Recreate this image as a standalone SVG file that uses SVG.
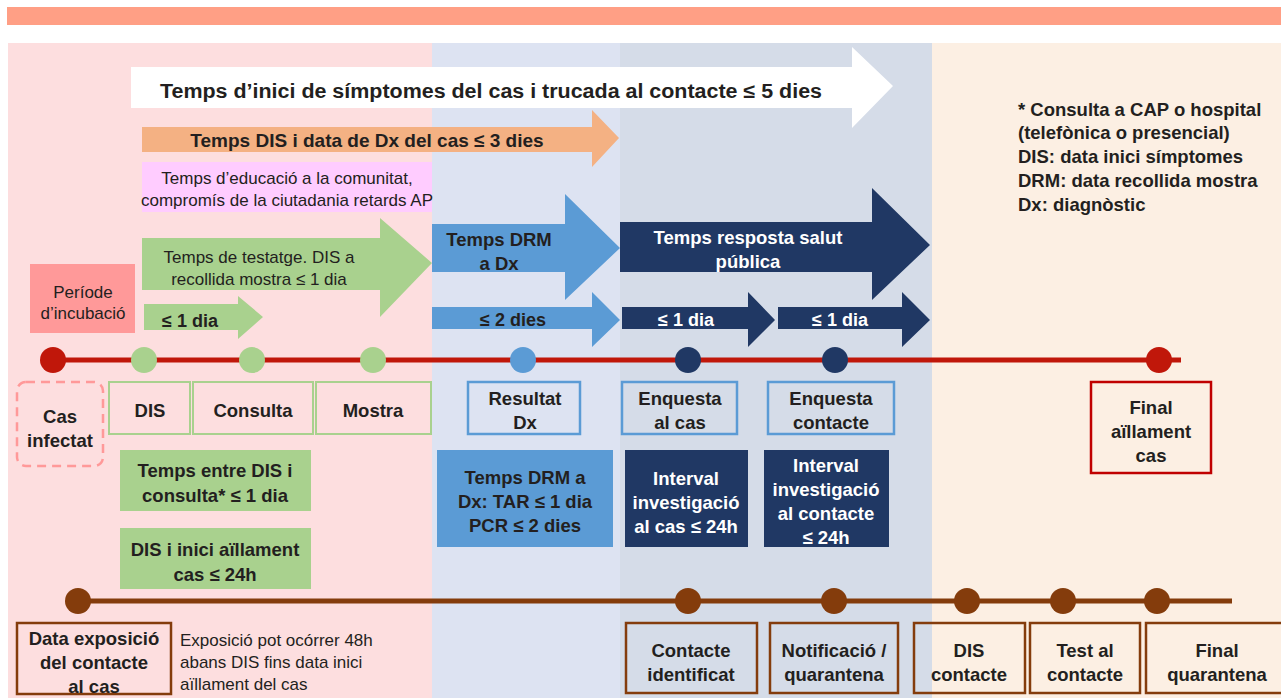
<svg xmlns="http://www.w3.org/2000/svg" width="1281" height="698" viewBox="0 0 1281 698">
  <style>
    text { font-family: "Liberation Sans", Arial, sans-serif; fill: #231F20; }
    .b { font-weight: bold; font-size: 18.5px; }
    .s { font-size: 18px; }
    .r { font-size: 17px; }
    .w { fill: #FFFFFF; }
    .c { text-anchor: middle; }
    .gbox { fill: none; stroke: #A9D18E; stroke-width: 2; }
    .bbox { fill: none; stroke: #5B9BD5; stroke-width: 2.5; }
    .rbox { fill: none; stroke: #C00000; stroke-width: 2.5; }
    .brbox { fill: none; stroke: #843C0C; stroke-width: 2.5; }
  </style>

  <!-- header band and phase panels -->
  <g id="background">
    <rect x="7" y="7" width="1274" height="18" fill="#FF9F85"/>
    <rect x="8" y="43" width="424" height="655" fill="#FDDEDF"/>
    <rect x="432" y="43" width="188" height="655" fill="#DDE3F2"/>
    <rect x="620" y="43" width="312" height="655" fill="#D5DCE8"/>
    <rect x="932" y="43" width="349" height="655" fill="#FCEFE3"/>
  </g>

  <!-- interval arrows -->
  <g id="arrow-5dies">
    <polygon points="131,67 852,67 852,47 893,86 852,128 852,108 131,108" fill="#FFFFFF"/>
    <text class="b" x="160" y="98" style="font-size:20px" textLength="662" lengthAdjust="spacingAndGlyphs">Temps d’inici de símptomes del cas i trucada al contacte ≤ 5 dies</text>
  </g>
  <g id="arrow-3dies">
    <polygon points="142,127 592,127 592,110 619,138 592,167 592,152 142,152" fill="#F4B183"/>
    <text class="b c" x="367" y="147" style="font-size:19px">Temps DIS i data de Dx del cas ≤ 3 dies</text>
  </g>
  <g id="educacio">
    <rect x="142" y="162" width="290" height="50" fill="#FFCCFF"/>
    <text class="r c" x="287" y="184">Temps d’educació a la comunitat,</text>
    <text class="r c" x="287" y="206">compromís de la ciutadania retards AP</text>
  </g>
  <g id="arrow-testatge">
    <polygon points="142,238 380,238 380,218 432,263 380,317 380,290 142,290" fill="#A9D18E"/>
    <text class="r c" x="259" y="263">Temps de testatge. DIS a</text>
    <text class="r c" x="259" y="285">recollida mostra ≤ 1 dia</text>
  </g>
  <g id="incubacio">
    <rect x="30" y="264" width="105" height="69" fill="#FF9999"/>
    <text class="r c" x="83" y="298">Període</text>
    <text class="r c" x="83" y="319">d’incubació</text>
  </g>
  <g id="arrow-1dia-green">
    <polygon points="144,304 238,304 238,296 263,317 238,339 238,330 144,330" fill="#A9D18E"/>
    <text class="b s" x="162" y="327">≤ 1 dia</text>
  </g>
  <g id="arrow-drm">
    <polygon points="432,224 565,224 565,194 620,248 565,300 565,272 432,272" fill="#5B9BD5"/>
    <text class="b c" x="499" y="246">Temps DRM</text>
    <text class="b c" x="499" y="270">a Dx</text>
  </g>
  <g id="arrow-2dies">
    <polygon points="432,307 592,307 592,292 620,320 592,347 592,329 432,329" fill="#5B9BD5"/>
    <text class="b c s" x="513" y="326">≤ 2 dies</text>
  </g>
  <g id="arrow-resposta">
    <polygon points="620,222 872,222 872,188 930,245 872,300 872,272 620,272" fill="#203864"/>
    <text class="b c w" x="748" y="244">Temps resposta salut</text>
    <text class="b c w" x="748" y="268">pública</text>
  </g>
  <g id="arrow-1dia-cas">
    <polygon points="622,307 748,307 748,292 775,320 748,347 748,329 622,329" fill="#203864"/>
    <text class="b c w s" x="686" y="326">≤ 1 dia</text>
  </g>
  <g id="arrow-1dia-contacte">
    <polygon points="778,307 902,307 902,292 930,320 902,347 902,329 778,329" fill="#203864"/>
    <text class="b c w s" x="840" y="326">≤ 1 dia</text>
  </g>

  <!-- legend -->
  <g id="legend">
    <text class="b" x="1018" y="116">* Consulta a CAP o hospital</text>
    <text class="b" x="1018" y="139">(telefònica o presencial)</text>
    <text class="b" x="1018" y="163">DIS: data inici símptomes</text>
    <text class="b" x="1018" y="187">DRM: data recollida mostra</text>
    <text class="b" x="1018" y="211">Dx: diagnòstic</text>
  </g>

  <!-- timelines -->
  <g id="connectors">
    <line x1="52" y1="360" x2="1181" y2="360" stroke="#C0170A" stroke-width="5"/>
    <line x1="72" y1="601" x2="1232" y2="601" stroke="#843C0C" stroke-width="5"/>
  </g>

  <!-- case timeline milestones -->
  <g id="m-cas-infectat">
    <circle cx="53" cy="360" r="13" fill="#C0170A"/>
    <rect x="17" y="382" width="86" height="84" rx="9" fill="none" stroke="#FF9999" stroke-width="2.5" stroke-dasharray="9,6"/>
    <text class="b c" x="60" y="423">Cas</text>
    <text class="b c" x="60" y="447">infectat</text>
  </g>
  <g id="m-dis">
    <circle cx="144" cy="360" r="13" fill="#A9D18E"/>
    <rect class="gbox" x="109" y="382" width="81" height="52"/>
    <text class="b c" x="150" y="417">DIS</text>
  </g>
  <g id="m-consulta">
    <circle cx="252" cy="360" r="13" fill="#A9D18E"/>
    <rect class="gbox" x="193" y="382" width="120" height="52"/>
    <text class="b c" x="253" y="417">Consulta</text>
  </g>
  <g id="m-mostra">
    <circle cx="373" cy="360" r="13" fill="#A9D18E"/>
    <rect class="gbox" x="316" y="382" width="115" height="52"/>
    <text class="b c" x="373" y="417">Mostra</text>
  </g>
  <g id="m-resultat">
    <circle cx="523" cy="360" r="13" fill="#5B9BD5"/>
    <rect class="bbox" x="468" y="382" width="112" height="52"/>
    <text class="b c" x="525" y="405">Resultat</text>
    <text class="b c" x="525" y="429">Dx</text>
  </g>
  <g id="m-enquesta-cas">
    <circle cx="688" cy="360" r="13" fill="#203864"/>
    <rect class="bbox" x="622" y="382" width="115" height="52"/>
    <text class="b c" x="680" y="405">Enquesta</text>
    <text class="b c" x="680" y="429">al cas</text>
  </g>
  <g id="m-enquesta-contacte">
    <circle cx="835" cy="360" r="13" fill="#203864"/>
    <rect class="bbox" x="768" y="382" width="126" height="52"/>
    <text class="b c" x="831" y="405">Enquesta</text>
    <text class="b c" x="831" y="429">contacte</text>
  </g>
  <g id="m-final-aillament">
    <circle cx="1159" cy="360" r="13" fill="#C0170A"/>
    <rect class="rbox" x="1091" y="382" width="120" height="91"/>
    <text class="b c" x="1151" y="414">Final</text>
    <text class="b c" x="1151" y="438">aïllament</text>
    <text class="b c" x="1151" y="462">cas</text>
  </g>

  <!-- interval targets -->
  <g id="t-dis-consulta">
    <rect x="120" y="450" width="191" height="61" fill="#A9D18E"/>
    <text class="b c" x="215" y="477">Temps entre DIS i</text>
    <text class="b c" x="215" y="502">consulta* ≤ 1 dia</text>
  </g>
  <g id="t-dis-aillament">
    <rect x="120" y="528" width="191" height="61" fill="#A9D18E"/>
    <text class="b c" x="215" y="556">DIS i inici aïllament</text>
    <text class="b c" x="215" y="581">cas ≤ 24h</text>
  </g>
  <g id="t-drm-dx">
    <rect x="437" y="450" width="176" height="97" fill="#5B9BD5"/>
    <text class="b c" x="525" y="484">Temps DRM a</text>
    <text class="b c" x="525" y="508">Dx: TAR ≤ 1 dia</text>
    <text class="b c" x="525" y="532">PCR ≤ 2 dies</text>
  </g>
  <g id="t-investigacio-cas">
    <rect x="625" y="450" width="123" height="97" fill="#203864"/>
    <text class="b c w" x="686" y="485">Interval</text>
    <text class="b c w" x="686" y="509">investigació</text>
    <text class="b c w" x="686" y="533">al cas ≤ 24h</text>
  </g>
  <g id="t-investigacio-contacte">
    <rect x="764" y="450" width="125" height="97" fill="#203864"/>
    <text class="b c w" x="826" y="472">Interval</text>
    <text class="b c w" x="826" y="496">investigació</text>
    <text class="b c w" x="826" y="520">al contacte</text>
    <text class="b c w" x="826" y="544">≤ 24h</text>
  </g>

  <!-- contact timeline milestones -->
  <g id="c-exposicio">
    <circle cx="78" cy="601" r="13" fill="#843C0C"/>
    <rect class="brbox" x="17" y="623" width="154" height="71"/>
    <text class="b c" x="94" y="645">Data exposició</text>
    <text class="b c" x="94" y="669">del contacte</text>
    <text class="b c" x="94" y="693">al cas</text>
    <text x="180" y="646" style="font-size:17px">Exposició pot ocórrer 48h</text>
    <text x="180" y="668" style="font-size:17px">abans DIS fins data inici</text>
    <text x="180" y="690" style="font-size:17px">aïllament del cas</text>
  </g>
  <g id="c-identificat">
    <circle cx="688" cy="601" r="13" fill="#843C0C"/>
    <rect class="brbox" x="626" y="623" width="131" height="70"/>
    <text class="b c" x="691" y="657">Contacte</text>
    <text class="b c" x="691" y="681">identificat</text>
  </g>
  <g id="c-notificacio">
    <circle cx="834" cy="601" r="13" fill="#843C0C"/>
    <rect class="brbox" x="770" y="623" width="128" height="70"/>
    <text class="b c" x="834" y="657">Notificació /</text>
    <text class="b c" x="834" y="681">quarantena</text>
  </g>
  <g id="c-dis-contacte">
    <circle cx="967" cy="601" r="13" fill="#843C0C"/>
    <rect class="brbox" x="914" y="623" width="111" height="70"/>
    <text class="b c" x="969" y="657">DIS</text>
    <text class="b c" x="969" y="681">contacte</text>
  </g>
  <g id="c-test">
    <circle cx="1063" cy="601" r="13" fill="#843C0C"/>
    <rect class="brbox" x="1030" y="623" width="110" height="70"/>
    <text class="b c" x="1085" y="657">Test al</text>
    <text class="b c" x="1085" y="681">contacte</text>
  </g>
  <g id="c-final-quarantena">
    <circle cx="1157" cy="601" r="13" fill="#843C0C"/>
    <rect class="brbox" x="1146" y="623" width="140" height="70"/>
    <text class="b c" x="1217" y="657">Final</text>
    <text class="b c" x="1217" y="681">quarantena</text>
  </g>
</svg>
